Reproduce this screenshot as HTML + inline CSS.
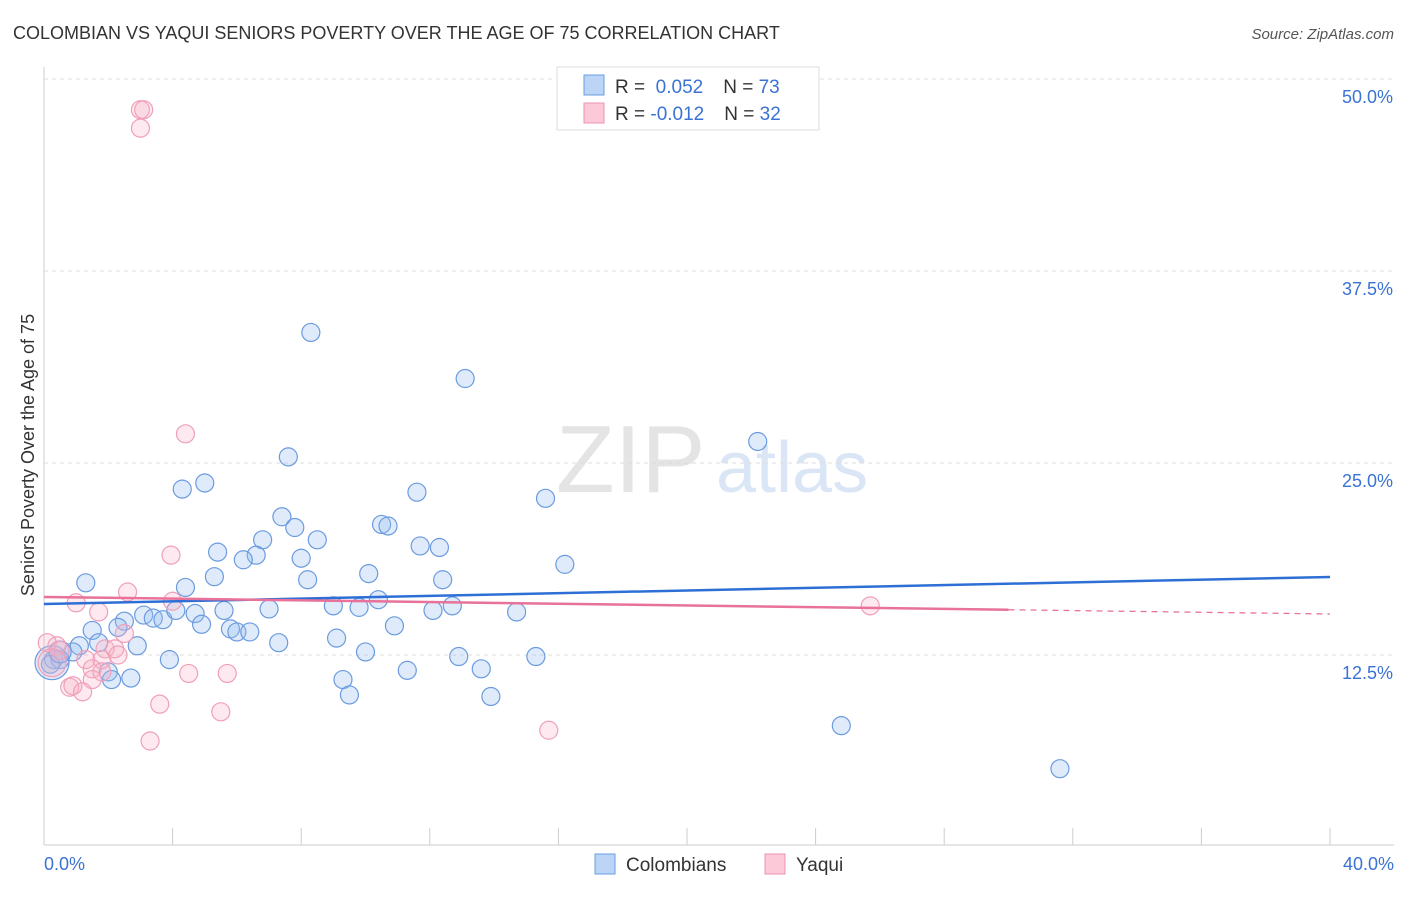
<!DOCTYPE html>
<html><head><meta charset="utf-8"><style>
body{margin:0;background:#fff;font-family:"Liberation Sans",sans-serif;}
svg text{font-family:"Liberation Sans",sans-serif;}
</style></head><body>
<svg id="chart" width="1406" height="892">
<text x="13" y="39" font-size="18" fill="#333">COLOMBIAN VS YAQUI SENIORS POVERTY OVER THE AGE OF 75 CORRELATION CHART</text>
<text x="1394" y="39" font-size="15" fill="#555" font-style="italic" text-anchor="end">Source: ZipAtlas.com</text>
<text x="0" y="0" transform="translate(34,455) rotate(-90)" font-size="18" fill="#333" text-anchor="middle">Seniors Poverty Over the Age of 75</text>
<text x="556" y="492" font-size="96" fill="#e4e4e4" font-family="Liberation Serif">ZIP</text>
<text x="716" y="492" font-size="72" fill="#dae6f6">atlas</text>
<g id="grid"></g><g id="marks"></g><g id="lines"></g>
<g>
<rect x="557" y="67" width="262" height="63" fill="#fff" stroke="#ddd"/>
<rect x="584" y="75" width="20" height="20" fill="#bcd4f5" stroke="#6a9ee0"/>
<rect x="584" y="103" width="20" height="20" fill="#fbc9d8" stroke="#ee93b0"/>
<text x="615" y="93" font-size="19" fill="#333">R = <tspan fill="#3a73d3">&#160;0.052</tspan><tspan dx="20">N = </tspan><tspan fill="#3a73d3">73</tspan></text>
<text x="615" y="120" font-size="19" fill="#333">R = <tspan fill="#3a73d3">-0.012</tspan><tspan dx="20">N = </tspan><tspan fill="#3a73d3">32</tspan></text>
</g>
<g>
<rect x="595" y="854" width="20" height="20" fill="#bcd4f5" stroke="#6a9ee0"/>
<text x="626" y="871" font-size="19" fill="#333">Colombians</text>
<rect x="765" y="854" width="20" height="20" fill="#fbc9d8" stroke="#ee93b0"/>
<text x="796" y="871" font-size="19" fill="#333">Yaqui</text>
</g>
</svg>
<script>
const yTicks=[12.5,25,37.5,50];
const yTickLabels=["12.5%","25.0%","37.5%","50.0%"];
const xTickLabels=["0.0%","40.0%"];
const blueX=[8.3,13.1,22.2,7.6,5.0,4.3,11.6,15.6,7.4,7.8,10.5,10.7,6.8,8.5,5.4,6.6,6.2,11.7,12.3,8.0,16.2,10.1,5.3,8.2,12.4,1.3,4.4,10.4,9.0,9.8,7.0,5.6,12.7,12.1,14.7,4.7,3.1,3.4,3.7,4.1,2.5,4.9,10.9,1.5,5.8,6.0,6.4,2.3,2.9,1.7,1.1,7.3,9.1,10.0,12.9,15.3,0.9,3.9,0.3,0.5,0.2,2.0,11.3,13.6,2.7,2.1,9.3,9.5,13.9,24.8,31.6,0.25,0.5];
const blueY=[33.5,30.5,26.4,25.4,23.7,23.3,23.1,22.7,21.5,20.8,21.0,20.9,20.0,20.0,19.2,19.0,18.7,19.6,19.5,18.8,18.4,17.8,17.6,17.4,17.4,17.2,16.9,16.1,15.7,15.6,15.5,15.4,15.7,15.4,15.3,15.2,15.1,14.9,14.8,15.4,14.7,14.5,14.4,14.1,14.2,14.0,14.0,14.3,13.1,13.3,13.1,13.3,13.6,12.7,12.4,12.4,12.7,12.2,12.2,12.2,11.9,11.4,11.5,11.6,11.0,10.9,10.9,9.9,9.8,7.9,5.1,12.0,12.7];
const blueR=[9,9,9,9,9,9,9,9,9,9,9,9,9,9,9,9,9,9,9,9,9,9,9,9,9,9,9,9,9,9,9,9,9,9,9,9,9,9,9,9,9,9,9,9,9,9,9,9,9,9,9,9,9,9,9,9,9,9,9,9,9,9,9,9,9,9,9,9,9,9,9,17,11];
const pinkX=[3.0,3.1,3.0,4.4,3.95,2.6,1.0,1.7,4.0,2.5,1.9,2.2,0.4,0.5,0.1,1.3,1.8,2.3,1.5,4.5,5.7,1.8,0.8,0.9,1.5,1.2,3.6,5.5,3.3,15.7,25.7,0.25];
const pinkY=[48.0,48.0,46.8,26.9,19.0,16.6,15.9,15.3,16.0,13.9,12.9,12.9,13.1,12.8,13.3,12.2,12.2,12.5,11.6,11.3,11.3,11.4,10.4,10.5,10.9,10.1,9.3,8.8,6.9,7.6,15.7,12.0];
const pinkR=[9,9,9,9,9,9,9,9,9,9,9,9,9,9,9,9,9,9,9,9,9,9,9,9,9,9,9,9,9,9,9,14];
const blueTrend=[15.82,17.58];
const pinkTrend=[16.28,15.17];
const pinkSolidEnd=30;
const X=v=>44+v/40*1286, Y=v=>847-v/50*768;
const NS="http://www.w3.org/2000/svg";
function mk(t,a,p){const e=document.createElementNS(NS,t);for(const k in a)e.setAttribute(k,a[k]);p.appendChild(e);return e;}
const grid=document.getElementById('grid'),marks=document.getElementById('marks'),lines=document.getElementById('lines');
const yAxis=mk('line',{x1:44,y1:67,x2:44,y2:845,stroke:'#ccc'},grid);


const xAxis=mk('line',{x1:44,y1:845,x2:1394,y2:845,stroke:'#ccc'},grid);


yTicks.forEach((t,i)=>{
 const g=mk('line',{x1:44,y1:Y(t),x2:1394,y2:Y(t),stroke:'#ddd','stroke-dasharray':'4,4'},grid);
 
 
 const l=mk('text',{x:1393,y:Y(t)+24,'font-size':18,fill:'#3a73d3','text-anchor':'end'},grid);l.textContent=yTickLabels[i];
 
 
});
for(let i=0;i<=10;i++){const x=44+i*128.6;
 const t=mk('line',{x1:x,y1:828,x2:x,y2:845,stroke:'#ccc'},grid);
 
 
}
[[0,'start',44],[1,'end',1394]].forEach(([i,a,x])=>{const l=mk('text',{x:x,y:870,'font-size':18,fill:'#3a73d3','text-anchor':a},grid);l.textContent=xTickLabels[i];
 
 });
blueX.forEach((v,i)=>{const c=mk('circle',{cx:X(v),cy:Y(blueY[i]),r:blueR[i],fill:'rgba(150,188,238,0.3)',stroke:'#6b9be0','stroke-width':1.2},marks);
 
 });
pinkX.forEach((v,i)=>{const c=mk('circle',{cx:X(v),cy:Y(pinkY[i]),r:pinkR[i],fill:'rgba(248,175,198,0.28)',stroke:'#f0a0ba','stroke-width':1.2},marks);
 
 });
const bl=mk('line',{x1:X(0),y1:Y(blueTrend[0]),x2:X(40),y2:Y(blueTrend[1]),stroke:'#2e6fd6','stroke-width':2.5},lines);


const pm=pinkTrend[0]+(pinkTrend[1]-pinkTrend[0])*pinkSolidEnd/40;
const pl=mk('line',{x1:X(0),y1:Y(pinkTrend[0]),x2:X(pinkSolidEnd),y2:Y(pm),stroke:'#e8729a','stroke-width':2.5},lines);


const pd=mk('line',{x1:X(pinkSolidEnd),y1:Y(pm),x2:X(40),y2:Y(pinkTrend[1]),stroke:'#e8729a','stroke-width':1.3,'stroke-dasharray':'6,5'},lines);


</script>
</body></html>
